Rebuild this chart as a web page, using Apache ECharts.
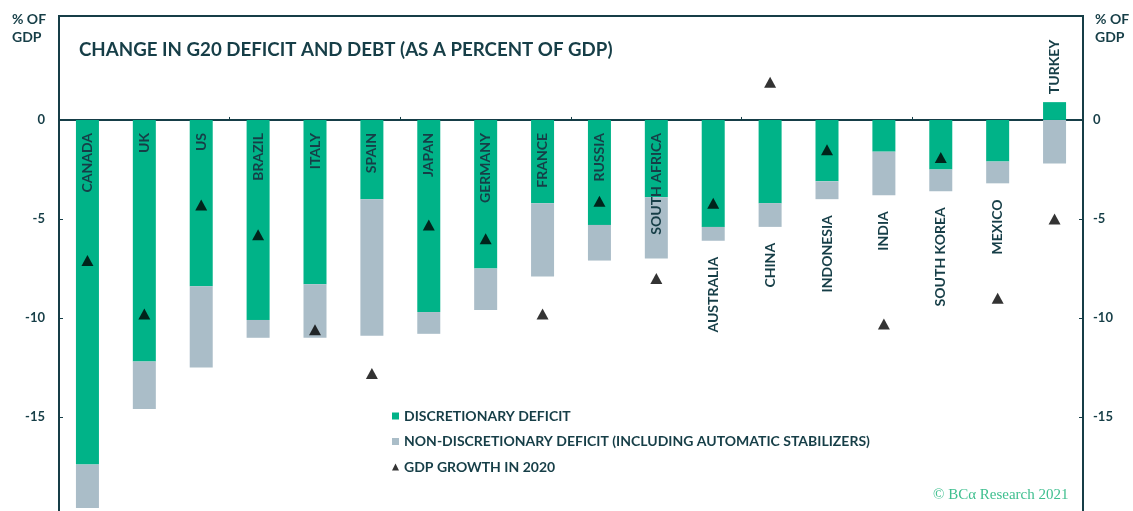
<!DOCTYPE html>
<html>
<head>
<meta charset="utf-8">
<style>
  html, body { margin: 0; padding: 0; background: #ffffff; }
  #chart { width: 1133px; height: 511px; }
</style>
<script src="https://cdn.jsdelivr.net/npm/echarts@6/dist/echarts.min.js"></script>
</head>
<body>
<div id="chart"></div>
<script>
// G20 countries, ordered by total deficit change
const categories = ['CANADA', 'UK', 'US', 'BRAZIL', 'ITALY', 'SPAIN', 'JAPAN', 'GERMANY', 'FRANCE',
  'RUSSIA', 'SOUTH AFRICA', 'AUSTRALIA', 'CHINA', 'INDONESIA', 'INDIA', 'SOUTH KOREA', 'MEXICO', 'TURKEY'];

// Change in deficit, % of GDP
const discretionary = [-17.4, -12.2, -8.4, -10.1, -8.3, -4.0, -9.7, -7.5, -4.2,
  -5.3, -3.9, -5.4, -4.2, -3.1, -1.6, -2.5, -2.1, 0.9];
const nonDiscretionary = [-2.2, -2.4, -4.1, -0.9, -2.7, -6.9, -1.1, -2.1, -3.7,
  -1.8, -3.1, -0.7, -1.2, -0.9, -2.2, -1.1, -1.1, -2.2];

// Real GDP growth in 2020, %
const gdpGrowth = [-7.1, -9.8, -4.3, -5.8, -10.6, -12.8, -5.3, -6.0, -9.8,
  -4.1, -8.0, -4.2, 1.9, -1.5, -10.3, -1.9, -9.0, -5.0];

// Axis tick labels
const yTicks = [0, -5, -10, -15];

const DARK = '#163e47';
const GREEN = '#00b388';
const GREY = '#aabdc8';

// Country names that sit under the bar, or above it, instead of inside
const labelsBelow = ['AUSTRALIA', 'CHINA', 'INDONESIA', 'INDIA', 'SOUTH KOREA', 'MEXICO'];
const labelsAbove = ['TURKEY'];

const chart = echarts.init(document.getElementById('chart'), null, { renderer: 'canvas' });

function yAxisCfg(position, margin) {
  return {
    type: 'value',
    position: position,
    min: -20,
    max: 5.25,
    splitLine: { show: false },
    axisLine: { show: true, lineStyle: { color: DARK, width: 2 } },
    axisTick: { show: true, inside: true, length: 4, customValues: yTicks, lineStyle: { color: DARK, width: 1 } },
    axisLabel: {
      show: true, customValues: yTicks, margin: margin,
      color: DARK, fontFamily: 'Lato', fontWeight: 'bold', fontSize: 13
    }
  };
}

const option = {
  animation: false,
  backgroundColor: '#ffffff',
  grid: {
    show: true, left: 59, right: 50, top: 16, height: 500,
    outerBoundsMode: 'none',
    borderColor: DARK, borderWidth: 2, containLabel: false
  },
  xAxis: {
    type: 'category',
    data: categories,
    axisLine: { show: true, onZero: true, lineStyle: { color: DARK, width: 2 } },
    axisTick: { show: true, inside: true, length: 3, lineStyle: { color: DARK, width: 1 } },
    axisLabel: { show: false },
    splitLine: { show: false }
  },
  yAxis: [yAxisCfg('left', 14), yAxisCfg('right', 10)],
  legend: {
    orient: 'vertical',
    left: 392,
    top: 408,
    padding: 0,
    itemWidth: 7,
    itemHeight: 7,
    itemGap: 9.5,
    selectedMode: false,
    textStyle: { color: DARK, fontFamily: 'Lato', fontWeight: 'bold', fontSize: 14, lineHeight: 16 },
    data: [
      { name: 'DISCRETIONARY DEFICIT', icon: 'rect' },
      { name: 'NON-DISCRETIONARY DEFICIT (INCLUDING AUTOMATIC STABILIZERS)', icon: 'rect' },
      { name: 'GDP GROWTH IN 2020', icon: 'triangle' }
    ]
  },
  graphic: [
    {
      type: 'text', left: 79, top: 40,
      style: { text: 'CHANGE IN G20 DEFICIT AND DEBT (AS A PERCENT OF GDP)', fill: DARK,
        fontFamily: 'Lato', fontWeight: 'bold', fontSize: 18.7 }
    },
    {
      type: 'text', left: 12, top: 10,
      style: { text: '% OF\nGDP', fill: DARK, fontFamily: 'Lato', fontWeight: 'bold', fontSize: 14, lineHeight: 18 }
    },
    {
      type: 'text', left: 1095, top: 10,
      style: { text: '% OF\nGDP', fill: DARK, fontFamily: 'Lato', fontWeight: 'bold', fontSize: 14, lineHeight: 18 }
    },
    {
      type: 'text', left: 933, top: 488,
      style: { text: '\u00a9 BC\u03b1 Research 2021', fill: '#3fbf8f', fontFamily: 'Liberation Serif', fontSize: 15 }
    }
  ],
  series: [
    {
      name: 'DISCRETIONARY DEFICIT',
      type: 'bar',
      stack: 'deficit',
      barWidth: 23,
      itemStyle: { color: GREEN },
      data: discretionary
    },
    {
      name: 'NON-DISCRETIONARY DEFICIT (INCLUDING AUTOMATIC STABILIZERS)',
      type: 'bar',
      stack: 'deficit',
      barWidth: 23,
      itemStyle: { color: GREY },
      data: nonDiscretionary
    },
    {
      name: 'GDP GROWTH IN 2020',
      type: 'scatter',
      symbol: 'triangle',
      symbolSize: [12, 11],
      itemStyle: { color: '#000000' },
      z: 5,
      data: gdpGrowth
    },
    {
      // rotated country names
      type: 'custom',
      z: 4,
      silent: true,
      data: categories.map(function (c, i) { return [i, 0]; }),
      encode: { x: 0, y: 1 },
      renderItem: function (params, api) {
        const i = params.dataIndex;
        const name = categories[i];
        const base = api.coord([i, 0]);
        let y, align;
        if (labelsAbove.indexOf(name) >= 0) {
          y = api.coord([i, discretionary[i]])[1] - 8;
          align = 'left';
        } else if (labelsBelow.indexOf(name) >= 0) {
          y = api.coord([i, discretionary[i] + nonDiscretionary[i]])[1] + 16;
          align = 'right';
        } else {
          y = base[1] + 13;
          align = 'right';
        }
        return {
          type: 'text',
          x: base[0],
          y: y,
          rotation: Math.PI / 2,
          style: {
            text: name, fill: DARK, align: align, verticalAlign: 'middle',
            fontFamily: 'Lato', fontWeight: 'bold', fontSize: 14
          }
        };
      }
    }
  ]
};

chart.setOption(option);
</script>
</body>
</html>
